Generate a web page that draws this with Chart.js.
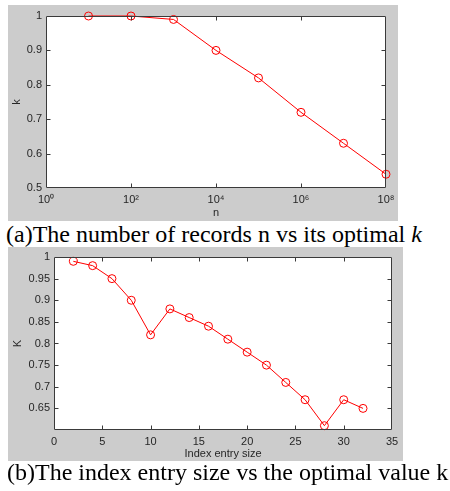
<!DOCTYPE html>
<html>
<head>
<meta charset="utf-8">
<script src="https://cdn.jsdelivr.net/npm/chart.js@4/dist/chart.umd.min.js"></script>
<style>
  html, body { margin:0; padding:0; background:#fff; width:450px; height:491px; overflow:hidden; }
  .box { position:absolute; background:#cccccc; }
  .cap { position:absolute; font-family:"Liberation Serif","Times New Roman",serif; font-size:24px; line-height:24px; color:#000; white-space:nowrap; }
</style>
</head>
<body>
<div class="box" style="left:8px;top:5px;width:390px;height:216px;"><canvas id="c1" width="390" height="216"></canvas></div>
<div class="cap" style="left:6px;top:222px;">(a)The number of records n vs its optimal <i>k</i></div>
<div class="box" style="left:8px;top:247px;width:395px;height:214px;"><canvas id="c2" width="395" height="214"></canvas></div>
<div class="cap" style="left:7px;top:460px;">(b)The index entry size vs the optimal value k</div>
<script>
// ---- data ----
const recordCounts = [1e1, 1e2, 1e3, 1e4, 1e5, 1e6, 1e7, 1e8];
const optimalKByRecords = [1.0, 1.0, 0.99, 0.90, 0.82, 0.72, 0.63, 0.54];
const recordTickValues = [1e0, 1e2, 1e4, 1e6, 1e8];
const recordTickLabels = ['10\u2070', '10\u00B2', '10\u2074', '10\u2076', '10\u2078'];

const entrySizes = [2, 4, 6, 8, 10, 12, 14, 16, 18, 20, 22, 24, 26, 28, 30, 32];
const optimalKByEntry = [0.99, 0.98, 0.95, 0.90, 0.82, 0.88, 0.86, 0.84, 0.81, 0.78, 0.75, 0.71, 0.67, 0.61, 0.67, 0.65];
const entryTickValues = [0, 5, 10, 15, 20, 25, 30, 35];
const entryKTickValues = [0.65, 0.7, 0.75, 0.8, 0.85, 0.9, 0.95, 1.0];
const recordKTickValues = [0.5, 0.6, 0.7, 0.8, 0.9, 1.0];

const FONT = { family: 'Liberation Sans, Arial, sans-serif', size: 11 };
const TXT = '#262626';

const frameTicks = {
  id: 'frameTicks',
  afterDraw(chart) {
    const { ctx, chartArea: a, scales } = chart;
    ctx.save();
    ctx.strokeStyle = '#3a3a3a';
    ctx.lineWidth = 1;
    ctx.beginPath();
    const L = Math.round(a.left) + 0.5, R = Math.round(a.right) - 0.5;
    const T = Math.round(a.top) + 0.5, B = Math.round(a.bottom) - 0.5;
    ctx.rect(L, T, R - L, B - T);
    const tl = 4;
    scales.x.ticks.forEach(t => {
      const px = Math.round(scales.x.getPixelForValue(t.value)) + 0.5;
      if (px <= L + 1 || px >= R - 1) return;
      ctx.moveTo(px, B); ctx.lineTo(px, B - tl);
      ctx.moveTo(px, T); ctx.lineTo(px, T + tl);
    });
    scales.y.ticks.forEach(t => {
      const py = Math.round(scales.y.getPixelForValue(t.value)) + 0.5;
      if (py <= T + 1 || py >= B - 1) return;
      ctx.moveTo(L, py); ctx.lineTo(L + tl, py);
      ctx.moveTo(R, py); ctx.lineTo(R - tl, py);
    });
    ctx.stroke();
    ctx.restore();
  }
};

const whiteArea = {
  id: 'whiteArea',
  beforeDraw(chart) {
    const { ctx, chartArea: a } = chart;
    ctx.save();
    ctx.fillStyle = '#ffffff';
    ctx.fillRect(a.left, a.top, a.right - a.left, a.bottom - a.top);
    ctx.restore();
  }
};

function fmt(v) { return String(Number(v.toFixed(2))); }

function makeChart(id, xs, ys, xOpts, yOpts, layout) {
  return new Chart(document.getElementById(id), {
    type: 'line',
    data: {
      datasets: [{
        data: xs.map((x, i) => ({ x: x, y: ys[i] })),
        borderColor: '#ff0000',
        borderWidth: 1,
        backgroundColor: 'rgba(0,0,0,0)',
        pointStyle: 'circle',
        pointRadius: 4,
        pointBorderWidth: 1,
        pointBorderColor: '#ff0000',
        pointBackgroundColor: 'rgba(0,0,0,0)',
        tension: 0,
        clip: false
      }]
    },
    options: {
      responsive: false,
      animation: false,
      events: [],
      layout: { padding: { top: layout.top, right: layout.right, left: 0, bottom: 0 } },
      plugins: { legend: { display: false }, tooltip: { enabled: false } },
      scales: {
        x: Object.assign({
          grid: { display: false, drawTicks: false },
          border: { display: false },
          ticks: { font: FONT, color: TXT, padding: 5, maxRotation: 0, autoSkip: false },
          title: { display: true, text: xOpts.title, font: FONT, color: TXT, padding: { top: 0, bottom: layout.xTitlePad } },
          afterFit(s) { s.height = layout.xh; s.paddingLeft = 0; s.paddingRight = 0; }
        }, xOpts.extra),
        y: Object.assign({
          grid: { display: false, drawTicks: false },
          border: { display: false },
          ticks: { font: FONT, color: TXT, padding: 4, callback: v => fmt(v) },
          title: { display: true, text: yOpts.title, font: FONT, color: TXT, padding: { top: layout.yTitlePad, bottom: 0 } },
          afterFit(s) { s.width = layout.yw; s.paddingTop = 0; s.paddingBottom = 0; }
        }, yOpts.extra)
      }
    },
    plugins: [whiteArea, frameTicks]
  });
}

makeChart('c1', recordCounts, optimalKByRecords,
  { title: 'n', extra: {
      type: 'logarithmic', min: 1, max: 1e8,
      afterBuildTicks(s) { s.ticks = recordTickValues.map(v => ({ value: v })); },
      ticks: { font: FONT, color: TXT, padding: 5, maxRotation: 0, autoSkip: false,
        callback: (v) => { const i = recordTickValues.indexOf(v); return i >= 0 ? recordTickLabels[i] : ''; } }
  } },
  { title: 'k', extra: {
      type: 'linear', min: 0.5, max: 1.0,
      afterBuildTicks(s) { s.ticks = recordKTickValues.map(v => ({ value: v })); }
  } },
  { top: 11, right: 12, xh: 33, yw: 38, xTitlePad: 1, yTitlePad: 2 });

makeChart('c2', entrySizes, optimalKByEntry,
  { title: 'Index entry size', extra: {
      type: 'linear', min: 0, max: 35,
      afterBuildTicks(s) { s.ticks = entryTickValues.map(v => ({ value: v })); }
  } },
  { title: 'K', extra: {
      type: 'linear', min: 0.6, max: 1.0,
      afterBuildTicks(s) { s.ticks = entryKTickValues.map(v => ({ value: v })); }
  } },
  { top: 10, right: 11, xh: 31, yw: 46, xTitlePad: 0, yTitlePad: 3 });
</script>
</body>
</html>
